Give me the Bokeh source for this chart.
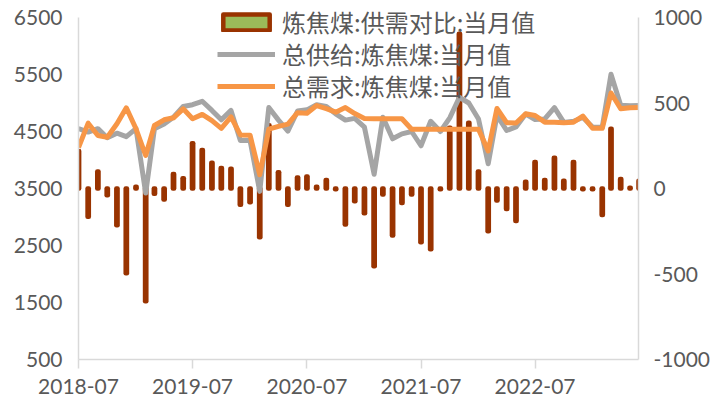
import pandas as pd
from bokeh.plotting import figure
from bokeh.models import Range1d, LinearAxis, FixedTicker, Legend, LegendItem, DatetimeTickFormatter, ColumnDataSource
from bokeh.embed import file_html
from bokeh.resources import INLINE

start_month = "2018-07-01"
n_months = 60
tick_labels = ["2018-07", "2019-07", "2020-07", "2021-07", "2022-07"]
left_ticks = [500, 1500, 2500, 3500, 4500, 5500, 6500]
right_ticks = [-1000, -500, 0, 500, 1000]
series_names = ["炼焦煤:供需对比:当月值", "总供给:炼焦煤:当月值", "总需求:炼焦煤:当月值"]

ratio = [220, -165, 100, -40, -215, -495, 10, -660, -30, -65, 85, 60,
         265, 225, 150, 120, 115, -95, -80, -285, 370, 95, -95, 65,
         70, 10, 50, -5, -210, -75, -145, -455, -35, -275, -85, -35,
         -315, -355, -5, 355, 905, 385, 100, -250, -70, -120, -190, 40,
         155, 50, 180, 45, 155, -5, -5, -155, 350, 55, 5, 45]

supply = [4550, 4490, 4550, 4390, 4470, 4410, 4550, 3420, 4550, 4630, 4750, 4940,
          4970, 5030, 4870, 4705, 4870, 4340, 4340, 3450, 4920, 4700, 4506, 4860,
          4880, 4970, 4940, 4810, 4700, 4730, 4576, 3750, 4751, 4372, 4459, 4500,
          4250, 4680, 4500, 4740, 5100, 5000, 4720, 3933, 4781, 4518, 4580, 4805,
          4710, 4720, 4920, 4660, 4680, 4745, 4580, 4575, 5505, 4960, 4950, 4956]

demand = [4220, 4646, 4430, 4400, 4635, 4916, 4547, 4079, 4605, 4705, 4740, 4898,
          4723, 4800, 4690, 4555, 4755, 4440, 4435, 3740, 4540, 4590, 4630, 4830,
          4820, 4956, 4900, 4839, 4920, 4815, 4730, 4723, 4723, 4723, 4723, 4540,
          4540, 4540, 4540, 4540, 4540, 4540, 4540, 4160, 4905, 4655, 4650, 4810,
          4781, 4664, 4664, 4655, 4664, 4770, 4556, 4556, 5175, 4898, 4916, 4920]

dates = pd.date_range(start_month, periods=n_months, freq="MS")
src = ColumnDataSource(dict(date=dates, ratio=ratio, supply=supply, demand=demand))

LABEL = "#595959"
AXIS = "#D9D9D9"
FONT = "Lato"
CJK = "Noto Sans CJK SC"

# frame spans 359 px; the axes themselves are drawn only between their bounds
frame_h = 359.0
axis_h = 342.0
left_top = left_ticks[0] + (left_ticks[-1] - left_ticks[0]) * frame_h / axis_h
right_top = right_ticks[0] + (right_ticks[-1] - right_ticks[0]) * frame_h / axis_h

p = figure(width=726, height=406, x_axis_type="datetime",
           x_range=Range1d(pd.Timestamp("2018-07-01"), pd.Timestamp("2023-05-28")),
           y_range=Range1d(left_ticks[0], left_top),
           output_backend="svg", toolbar_location=None,
           min_border_left=78, min_border_right=88, min_border_top=0, min_border_bottom=47)
p.outline_line_color = None
p.grid.visible = False
p.background_fill_color = "white"
p.border_fill_color = "white"
p.extra_y_ranges = {"r": Range1d(right_ticks[0], right_top)}

raxis = LinearAxis(y_range_name="r")
p.add_layout(raxis, "right")

day_ms = 24 * 3600 * 1000
bars = p.vbar(x="date", top="ratio", bottom=0, width=4 * day_ms, source=src,
              y_range_name="r", fill_color="#9BBB59", line_color="#993300",
              line_width=4.5, line_join="round")
l1 = p.line(x="date", y="supply", source=src, line_color="#A5A5A5", line_width=5, line_join="round")
l2 = p.line(x="date", y="demand", source=src, line_color="#F79646", line_width=5, line_join="round")

for ax in [p.yaxis[0], raxis]:
    ax.major_tick_out = 0
    ax.major_tick_in = 0
    ax.minor_tick_out = 0
    ax.minor_tick_in = 0
    ax.axis_line_color = AXIS
    ax.axis_line_width = 1.5
    ax.major_label_text_font = FONT
    ax.major_label_text_font_size = "21px"
    ax.major_label_text_color = LABEL
p.yaxis[0].ticker = FixedTicker(ticks=left_ticks)
p.yaxis[0].bounds = (left_ticks[0], left_ticks[-1])
p.yaxis[0].major_label_standoff = 16
raxis.ticker = FixedTicker(ticks=right_ticks)
raxis.bounds = (right_ticks[0], right_ticks[-1])
raxis.major_label_overrides = {t: str(t) for t in right_ticks}
raxis.major_label_standoff = 15

xa = p.xaxis[0]
xa.ticker = FixedTicker(ticks=[pd.Timestamp(t + "-01").value // 10**6 for t in tick_labels])
fmt = "%Y-%m"
xa.formatter = DatetimeTickFormatter(years=fmt, months=fmt, days=fmt, hours=fmt, minutes=fmt,
                                     seconds=fmt, milliseconds=fmt, microseconds=fmt, hourmin=fmt,
                                     minsec=fmt)
xa.major_tick_out = 9
xa.major_tick_in = 0
xa.minor_tick_out = 0
xa.minor_tick_in = 0
xa.major_tick_line_color = AXIS
xa.major_tick_line_width = 1.5
xa.axis_line_color = AXIS
xa.axis_line_width = 1.5
xa.major_label_text_font = FONT
xa.major_label_text_font_size = "21px"
xa.major_label_text_color = LABEL
xa.major_label_standoff = 10

# one legend per row so each row sits exactly where the reference has it
row_offsets = [320, 288, 256]
for name, rend, yoff in zip(series_names, [bars, l1, l2], row_offsets):
    lg = Legend(items=[LegendItem(label=name, renderers=[rend])], location=(139, yoff))
    lg.glyph_width = 58
    lg.glyph_height = 20
    lg.label_standoff = 7
    lg.label_text_font = CJK
    lg.label_text_font_size = "24px"
    lg.label_text_color = LABEL
    lg.spacing = 0
    lg.padding = 0
    lg.margin = 0
    lg.border_line_color = None
    lg.background_fill_alpha = 0
    p.add_layout(lg)

open("out.html", "w").write(file_html(p, INLINE))
